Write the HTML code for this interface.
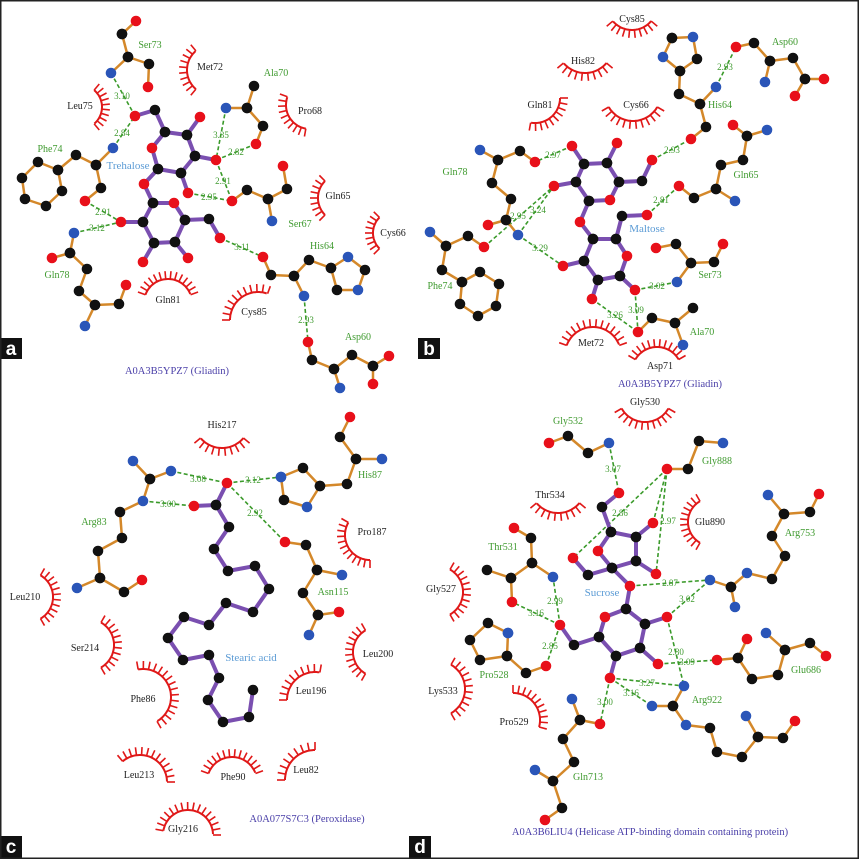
<!DOCTYPE html>
<html><head><meta charset="utf-8"><style>
html,body{margin:0;padding:0;background:#fff;}
svg{display:block;}
text{font-family:"Liberation Serif",serif;}
.g{fill:#3f9a2f;font-size:10px;text-anchor:middle;}
.k{fill:#222;font-size:10px;text-anchor:middle;}
.d{fill:#3f9a2f;font-size:9px;text-anchor:middle;}
.lig{fill:#5b9bd5;font-size:11px;text-anchor:middle;}
.t{fill:#4a3fa8;font-size:10.5px;text-anchor:middle;}
.p{fill:#fff;font-family:"Liberation Sans",sans-serif;font-size:19px;font-weight:bold;text-anchor:middle;}
</style></head><body>
<svg id="s" width="860" height="859" viewBox="0 0 860 859" xmlns="http://www.w3.org/2000/svg">
<rect x="0" y="0" width="860" height="859" fill="#fff"/>
<g id="arcs"></g>
<g id="hb"></g>
<g id="bonds"></g>
<g id="atoms"></g>
<g id="labels">
<!-- panel a -->
<text class="g" x="150" y="48">Ser73</text>
<text class="k" x="210" y="70">Met72</text>
<text class="k" x="80" y="109">Leu75</text>
<text class="g" x="276" y="76">Ala70</text>
<text class="k" x="310" y="114">Pro68</text>
<text class="g" x="50" y="152">Phe74</text>
<text class="lig" x="128" y="169">Trehalose</text>
<text class="k" x="338" y="199">Gln65</text>
<text class="g" x="300" y="227">Ser67</text>
<text class="k" x="393" y="236">Cys66</text>
<text class="g" x="322" y="249">His64</text>
<text class="g" x="57" y="278">Gln78</text>
<text class="k" x="168" y="303">Gln81</text>
<text class="k" x="254" y="315">Cys85</text>
<text class="g" x="358" y="340">Asp60</text>
<text class="d" x="122" y="99">3.10</text>
<text class="d" x="122" y="136">2.84</text>
<text class="d" x="221" y="138">3.35</text>
<text class="d" x="236" y="155">2.82</text>
<text class="d" x="223" y="184">2.91</text>
<text class="d" x="209" y="200">2.95</text>
<text class="d" x="103" y="215">2.91</text>
<text class="d" x="97" y="231">3.12</text>
<text class="d" x="242" y="250">3.11</text>
<text class="d" x="306" y="323">2.93</text>
<text class="t" x="177" y="374">A0A3B5YPZ7 (Gliadin)</text>
<!-- panel b -->
<text class="k" x="632" y="22">Cys85</text>
<text class="k" x="583" y="64">His82</text>
<text class="k" x="540" y="108">Gln81</text>
<text class="k" x="636" y="108">Cys66</text>
<text class="g" x="785" y="45">Asp60</text>
<text class="g" x="720" y="108">His64</text>
<text class="g" x="746" y="178">Gln65</text>
<text class="g" x="455" y="175">Gln78</text>
<text class="lig" x="647" y="232">Maltose</text>
<text class="g" x="710" y="278">Ser73</text>
<text class="g" x="440" y="289">Phe74</text>
<text class="g" x="702" y="335">Ala70</text>
<text class="k" x="591" y="346">Met72</text>
<text class="k" x="660" y="369">Asp71</text>
<text class="d" x="725" y="70">2.93</text>
<text class="d" x="672" y="153">2.93</text>
<text class="d" x="553" y="158">2.97</text>
<text class="d" x="661" y="203">2.81</text>
<text class="d" x="538" y="213">3.24</text>
<text class="d" x="518" y="219">2.95</text>
<text class="d" x="540" y="251">3.29</text>
<text class="d" x="657" y="289">3.02</text>
<text class="d" x="636" y="313">3.09</text>
<text class="d" x="615" y="318">3.26</text>
<text class="t" x="670" y="387">A0A3B5YPZ7 (Gliadin)</text>
<!-- panel c -->
<text class="k" x="222" y="428">His217</text>
<text class="g" x="94" y="525">Arg83</text>
<text class="g" x="370" y="478">His87</text>
<text class="k" x="372" y="535">Pro187</text>
<text class="g" x="333" y="595">Asn115</text>
<text class="k" x="25" y="600">Leu210</text>
<text class="k" x="85" y="651">Ser214</text>
<text class="k" x="378" y="657">Leu200</text>
<text class="lig" x="251" y="661">Stearic acid</text>
<text class="k" x="143" y="702">Phe86</text>
<text class="k" x="311" y="694">Leu196</text>
<text class="k" x="139" y="778">Leu213</text>
<text class="k" x="233" y="780">Phe90</text>
<text class="k" x="306" y="773">Leu82</text>
<text class="k" x="183" y="832">Gly216</text>
<text class="d" x="198" y="482">3.08</text>
<text class="d" x="168" y="507">3.00</text>
<text class="d" x="253" y="483">3.12</text>
<text class="d" x="255" y="516">2.92</text>
<text class="t" x="307" y="822">A0A077S7C3 (Peroxidase)</text>
<!-- panel d -->
<text class="k" x="645" y="405">Gly530</text>
<text class="g" x="568" y="424">Gly532</text>
<text class="g" x="717" y="464">Gly888</text>
<text class="k" x="550" y="498">Thr534</text>
<text class="k" x="710" y="525">Glu890</text>
<text class="g" x="800" y="536">Arg753</text>
<text class="g" x="503" y="550">Thr531</text>
<text class="k" x="441" y="592">Gly527</text>
<text class="lig" x="602" y="596">Sucrose</text>
<text class="g" x="494" y="678">Pro528</text>
<text class="g" x="806" y="673">Glu686</text>
<text class="k" x="443" y="694">Lys533</text>
<text class="g" x="707" y="703">Arg922</text>
<text class="k" x="514" y="725">Pro529</text>
<text class="g" x="588" y="780">Gln713</text>
<text class="d" x="613" y="472">3.07</text>
<text class="d" x="620" y="516">2.86</text>
<text class="d" x="668" y="524">2.97</text>
<text class="d" x="670" y="586">2.87</text>
<text class="d" x="687" y="602">3.02</text>
<text class="d" x="555" y="604">2.99</text>
<text class="d" x="536" y="616">3.16</text>
<text class="d" x="550" y="649">2.85</text>
<text class="d" x="676" y="655">2.80</text>
<text class="d" x="687" y="665">3.09</text>
<text class="d" x="647" y="686">3.27</text>
<text class="d" x="631" y="696">3.16</text>
<text class="d" x="605" y="705">3.00</text>
<text class="t" x="650" y="835">A0A3B6LIU4 (Helicase ATP-binding domain containing protein)</text>
</g>
<rect x="0" y="338" width="22" height="21" fill="#111"/><text class="p" x="11" y="355">a</text>
<rect x="418" y="338" width="22" height="21" fill="#111"/><text class="p" x="429" y="355">b</text>
<rect x="0" y="836" width="22" height="22" fill="#111"/><text class="p" x="11" y="853">c</text>
<rect x="409" y="836" width="22" height="22" fill="#111"/><text class="p" x="420" y="853">d</text>
<rect x="0.75" y="0.75" width="857.5" height="857.5" fill="none" stroke="#222" stroke-width="1.5"/>
</svg>
<script>
var NS="http://www.w3.org/2000/svg";
function el(p,t,a){var e=document.createElementNS(NS,t);for(var k in a)e.setAttribute(k,a[k]);document.getElementById(p).appendChild(e);return e;}
var col={k:"#111",r:"#e8101a",b:"#2a55b8"};
function mol(s,bc,bw){
 s.split(";").forEach(function(path){
  var toks=path.trim().split(/\s+/),pts=[];
  for(var i=0;i<toks.length;i+=2){pts.push([toks[i][0],+toks[i].slice(1),+toks[i+1]]);}
  for(var j=1;j<pts.length;j++)el("bonds","line",{x1:pts[j-1][1],y1:pts[j-1][2],x2:pts[j][1],y2:pts[j][2],stroke:bc,"stroke-width":bw,"stroke-linecap":"round"});
  pts.forEach(function(p){el("atoms","circle",{cx:p[1],cy:p[2],r:5.3,fill:col[p[0]]});});
 });
}
var OR="#d4882a",PU="#7a4fb0";
// panel a
mol("k122 34 r136 21;k122 34 k128 57 k149 64 r148 87;k128 57 b111 73",OR,2.5);
mol("b113 148 k96 165 k76 155 k58 170 k38 162 k22 178 k25 199 k46 206 k62 191 k58 170;k96 165 k101 188 r85 201",OR,2.5);
mol("b74 233 k70 253 r52 258;k70 253 k87 269 k79 291 k95 305 k119 304 r126 285;k95 305 b85 326",OR,2.5);
mol("b226 108 k247 108 k254 86;k247 108 k263 126 r256 144",OR,2.5);
mol("r283 166 k287 189 k268 199 k247 190 r232 201;k268 199 b272 221",OR,2.5);
mol("r263 257 k271 275 k294 276 k309 260 k331 268 b348 257 k365 270 b358 290 k337 290 k331 268;k294 276 b304 296",OR,2.5);
mol("r308 342 k312 360 k334 369 k352 355 k373 366 r389 356;k373 366 r373 384;k334 369 b340 388",OR,2.5);
mol("r135 116 k155 110 k165 132 k187 135 k195 156 k181 173 k158 169 r152 148 k165 132;k187 135 r200 117;k195 156 r216 160;k181 173 r188 193;k158 169 r144 184 k153 203 r174 203 k185 220 k175 242 k154 243 k143 222 k153 203;k143 222 r121 222;k185 220 k209 219 r220 238;k154 243 r143 262;k175 242 r188 258",PU,4);
// panel b
mol("k672 38 b693 37 k697 59 k680 71 b663 57 k672 38;k680 71 k679 94 k700 104 b716 87;k700 104 k706 127 r691 139",OR,2.5);
mol("r736 47 k754 43 k770 61 k793 58 k805 79 r824 79;k805 79 r795 96;k770 61 b765 82",OR,2.5);
mol("r733 125 k747 136 b767 130;k747 136 k743 160 k721 165 k716 189 b735 201;k716 189 k694 198 r679 186",OR,2.5);
mol("r535 162 k520 151 k498 160 b480 150;k498 160 k492 183 k511 199 k506 220 r488 225;k506 220 b518 235",OR,2.5);
mol("r484 247 k468 236 k446 246 b430 232;k446 246 k442 270 k462 282 k480 272 k499 284 k496 306 k478 316 k460 304 k462 282",OR,2.5);
mol("r656 248 k676 244 k691 263 k714 262 r723 244;k691 263 b677 282",OR,2.5);
mol("r638 332 k652 318 k675 323 k693 308;k675 323 b683 345",OR,2.5);
mol("r572 146 k584 164 k607 163 r617 143;k607 163 k619 182 r610 200 k589 201 k576 182 k584 164;k576 182 r554 186;k619 182 k642 181 r652 160;k589 201 r580 222 k593 239 k616 239 r627 256 k620 276 k598 280 k584 261 k593 239;k616 239 k622 216 r647 215;k584 261 r563 266;k620 276 r635 290;k598 280 r592 299",PU,4);
// panel c
mol("b133 461 k150 479 b171 471;k150 479 b143 501 k120 512 k122 538 k98 551 k100 578 b77 588;k100 578 k124 592 r142 580",OR,2.5);
mol("b281 477 k303 468 k320 486 b307 507 k284 500 b281 477;k320 486 k347 484 k356 459 b382 459;k356 459 k340 437 r350 417",OR,2.5);
mol("r285 542 k306 545 k317 570 b342 575;k317 570 k303 593 k318 615 r339 612;k318 615 b309 635",OR,2.5);
mol("r227 483 k216 505 r194 506;k216 505 k229 527 k214 549 k228 571 k255 566 k269 589 k253 612 k226 603 k209 625 k184 617 k168 638 k183 660 k209 655 k219 678 k208 700 k223 722 k249 717 k253 690",PU,4);
// panel d
mol("r549 443 k568 436 k588 453 b609 443",OR,2.5);
mol("b723 443 k699 441 k688 469 r667 469",OR,2.5);
mol("r514 528 k531 538 k532 563 b553 577;k532 563 k511 578 k487 570;k511 578 r512 602",OR,2.5);
mol("b508 633 k507 656 k480 660 k470 640 k488 623 b508 633;k507 656 k526 673 r546 666",OR,2.5);
mol("b768 495 k784 514 k810 512 r819 494;k784 514 k772 536 k785 556 k772 579 b747 573 k731 587 b710 580;k731 587 b735 607",OR,2.5);
mol("r717 660 k738 658 r747 639;k738 658 k752 679 k778 675 k785 650 b766 633;k785 650 k810 643 r826 656",OR,2.5);
mol("b684 686 k673 706 b652 706;k673 706 b686 725 k710 728 k717 752 k742 757 k758 737 b746 716;k758 737 k783 738 r795 721",OR,2.5);
mol("r600 724 k580 720 b572 699;k580 720 k563 739 k574 762 k553 781 b535 770;k553 781 k562 808 r545 820",OR,2.5);
mol("r619 493 k602 507 k611 532 k636 537 k636 561 k612 568 r598 551 k611 532;k636 537 r653 523;k636 561 r656 574;k612 568 k588 575 r573 558;k612 568 r630 586 k626 609 k645 624 k640 648 k616 656 k599 637 r605 617 k626 609;k645 624 r667 617;k640 648 r658 664;k616 656 r610 678;k599 637 k574 645 r560 625",PU,4);
// hbonds
[[111,73,135,116],[113,148,135,116],[226,108,216,160],[256,144,216,160],[216,160,232,201],[188,193,232,201],[85,201,121,222],[74,233,121,222],[220,238,263,257],[304,296,308,342],
[716,87,736,47],[652,160,691,139],[647,215,679,186],[572,146,535,162],[518,235,554,186],[518,235,563,266],[484,247,554,186],[635,290,677,282],[635,290,638,332],[592,299,638,332],
[171,471,227,483],[143,501,194,506],[227,483,281,477],[227,483,285,542],
[609,443,619,493],[667,469,573,558],[667,469,653,523],[667,469,656,574],[630,586,710,580],[667,617,710,580],[667,617,684,686],[658,664,717,660],[610,678,684,686],[610,678,652,706],[610,678,600,724],[560,625,553,577],[560,625,512,602],[560,625,546,666]
].forEach(function(h){el("hb","line",{x1:h[0],y1:h[1],x2:h[2],y2:h[3],stroke:"#3a9a2a","stroke-width":1.6,"stroke-dasharray":"4 2.5"});});
// hydrophobic arcs [cx,cy,r,a1,a2]
[[212,70,25,130,230],[80,107,22,-50,50],[310,105,24,100,200],[342,198,24,135,225],[395,233,22,135,225],[168,303,24,200,340],[258,320,28,180,290],
[632,5,25,40,140],[585,45,28,40,140],[535,98,25,0,100],[633,93,28,30,150],[593,355,28,200,340],[657,372,25,210,330],
[222,420,28,40,140],[370,535,25,90,210],[28,597,25,-60,60],[88,645,26,-60,60],[378,652,25,120,240],[143,697,28,-100,60],[315,700,28,180,280],[140,782,27,230,360],[232,782,25,200,340],[315,780,30,180,270],[188,835,25,190,360],
[645,395,27,30,150],[558,485,28,40,140],[712,522,24,120,240],[437,592,26,-60,60],[437,689,28,-60,60],[513,720,27,-90,15]
].forEach(function(a){
 var cx=a[0],cy=a[1],r=a[2],d="";
 for(var t=a[3];t<=a[4]+0.01;t+=3){var q=t*Math.PI/180;d+=(d?"L":"M")+(cx+r*Math.cos(q)).toFixed(1)+" "+(cy+r*Math.sin(q)).toFixed(1);}
 el("arcs","path",{d:d,fill:"none",stroke:"#e01818","stroke-width":2});
 for(var t2=a[3];t2<=a[4]+0.01;t2+=(a[4]-a[3])/Math.max(6,Math.round((a[4]-a[3])/11))){var q2=t2*Math.PI/180;
  el("arcs","line",{x1:cx+r*Math.cos(q2),y1:cy+r*Math.sin(q2),x2:cx+(r+8)*Math.cos(q2),y2:cy+(r+8)*Math.sin(q2),stroke:"#e01818","stroke-width":1.6});}
});
</script>
</body></html>
